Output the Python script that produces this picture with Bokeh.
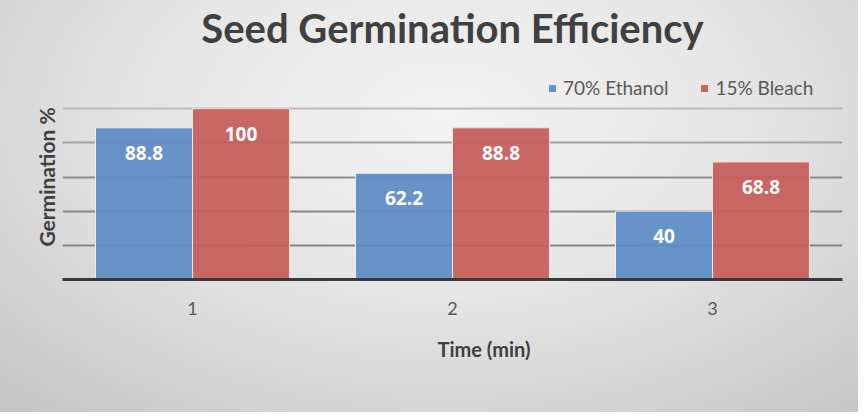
from bokeh.plotting import figure
from bokeh.models import ColumnDataSource, FixedTicker, Grid, Range1d, Legend, LegendItem, Title, LinearAxis
from bokeh.transform import dodge
from bokeh.core.properties import value
from bokeh.embed import file_html
from bokeh.resources import INLINE

# ---- data ----
times = [1, 2, 3]
ethanol = [88.8, 62.2, 40]
bleach = [100, 88.8, 68.8]
ethanol_labels = ["88.8", "62.2", "40"]
bleach_labels = ["100", "88.8", "68.8"]
grid_values = [20, 40, 60, 80, 100, 120]
grid_colors = ["#858585", "#888888", "#8e8e8e", "#a4a4a4", "#bcbcbc", "#d6d6d6"]

BLUE = "#5b8dc6"
RED = "#c65c5a"
BW = 0.373

src = ColumnDataSource(dict(x=times, eth=ethanol, ble=bleach,
                            eth_lab=ethanol_labels, ble_lab=bleach_labels))

p = figure(width=858, height=412, output_backend="svg", toolbar_location=None,
           x_range=Range1d(0.5, 3.5), y_range=Range1d(0, 120),
           min_border_left=62, min_border_right=16, min_border_top=74, min_border_bottom=133)

p.styles = {"background": "radial-gradient(ellipse 75% 95% at 52% 28%, #f3f3f3 0%, #e6e6e6 45%, #d2d2d2 80%, #c6c6c6 100%)"}
p.border_fill_alpha = 0
p.background_fill_alpha = 0
p.outline_line_color = None

# bottom x axis (styled before any other axis is added)
xa = p.xaxis[0]
xa.ticker = FixedTicker(ticks=times)
xa.major_tick_line_color = None
xa.minor_tick_line_color = None
xa.axis_line_color = "#3a3a3a"
xa.axis_line_width = 3
xa.major_label_text_font = "Lato"
xa.major_label_text_font_size = "18px"
xa.major_label_text_color = "#595959"
xa.major_label_standoff = 16

# y axis (no tick labels; grid lines carry the scale)
ya = p.yaxis[0]
ya.ticker = FixedTicker(ticks=[])
ya.major_tick_line_color = None
ya.minor_tick_line_color = None
ya.axis_line_color = None
ya.axis_label = "Germination %"
ya.axis_label_text_font = "Lato"
ya.axis_label_text_font_size = "21px"
ya.axis_label_text_font_style = "bold"
ya.axis_label_text_color = "#404040"
ya.axis_label_standoff = 4

# chart title carried by a bare axis above the plot area
top_axis = LinearAxis(ticker=FixedTicker(ticks=[]), axis_line_color=None,
                      major_tick_line_color=None, minor_tick_line_color=None,
                      major_label_standoff=0,
                      axis_label="Seed Germination Efficiency", axis_label_standoff=23,
                      axis_label_text_font="Lato", axis_label_text_font_size="40px",
                      axis_label_text_font_style="bold", axis_label_text_color="#404040")
p.add_layout(top_axis, "above")

xlabel = Title(text="Time (min)", align="left", offset=375, standoff=34,
               text_font="Lato", text_font_size="20px", text_font_style="bold",
               text_color="#404040")
p.add_layout(xlabel, "below")

# grids
p.xgrid.visible = False
p.ygrid.visible = False
for v, c in zip(grid_values, grid_colors):
    g = Grid(dimension=1, ticker=FixedTicker(ticks=[v]), grid_line_color=c, grid_line_width=2)
    p.add_layout(g)

r1 = p.vbar(x=dodge("x", -BW / 2, range=p.x_range), top="eth", width=BW, source=src,
            fill_color=BLUE, fill_alpha=0.93, line_color="#e8eef6", line_width=1)
r2 = p.vbar(x=dodge("x", BW / 2, range=p.x_range), top="ble", width=BW, source=src,
            fill_color=RED, fill_alpha=0.93, line_color="#f3e3e3", line_width=1)

lab_kw = dict(text_color="white", text_font=value("Open Sans"), text_font_style="bold",
              text_font_size="19px", text_align="center", text_baseline="middle", y_offset=25)
p.text(x=dodge("x", -BW / 2, range=p.x_range), y="eth", text="eth_lab", source=src, **lab_kw)
p.text(x=dodge("x", BW / 2, range=p.x_range), y="ble", text="ble_lab", source=src, **lab_kw)

legend = Legend(items=[LegendItem(label="70% Ethanol", renderers=[r1]),
                       LegendItem(label="15% Bleach", renderers=[r2])],
                location=(480, 175), orientation="horizontal",
                label_text_font="Lato", label_text_font_size="19px", label_text_color="#595959",
                glyph_width=10, glyph_height=10, label_standoff=6, spacing=31,
                padding=5, margin=0, background_fill_alpha=0, border_line_alpha=0)
p.add_layout(legend, "center")

open("out.html", "w").write(file_html(p, INLINE))
